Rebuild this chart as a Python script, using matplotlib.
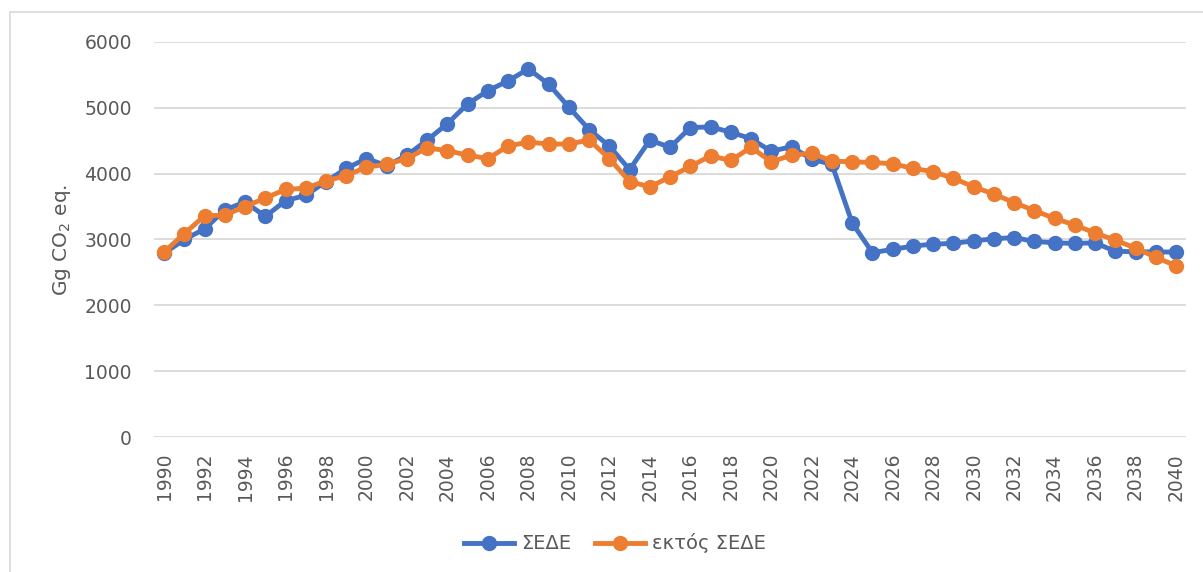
import matplotlib.pyplot as plt
from matplotlib.lines import Line2D

years = list(range(1990, 2041))

# ΣΕΔΕ (blue)
ets = [2790, 3000, 3160, 3450, 3570, 3350, 3590, 3670, 3880, 4080,
       4230, 4120, 4280, 4510, 4760, 5060, 5260, 5410, 5590, 5360,
       5010, 4670, 4420, 4060, 4510, 4400, 4700, 4710, 4630, 4530,
       4340, 4410, 4220, 4140, 3250, 2800, 2850, 2900, 2930, 2940,
       2980, 3010, 3030, 2970, 2950, 2940, 2950, 2820, 2815, 2810, 2810]

# εκτός ΣΕΔΕ (orange)
non_ets = [2810, 3090, 3360, 3370, 3500, 3630, 3760, 3780, 3890, 3970,
           4100, 4140, 4230, 4390, 4350, 4280, 4230, 4420, 4480, 4450,
           4450, 4510, 4230, 3880, 3800, 3950, 4110, 4270, 4200, 4400,
           4180, 4280, 4310, 4190, 4180, 4170, 4150, 4080, 4030, 3930,
           3800, 3690, 3560, 3440, 3320, 3220, 3100, 2990, 2870, 2730, 2600]

blue = '#4472C4'
orange = '#ED7D31'
grey = '#595959'

fig = plt.figure(figsize=(12.03, 5.72), dpi=100)
ax = fig.add_axes([0.128, 0.236, 0.858, 0.6906])

ax.plot(years, ets, color=blue, lw=3.5, marker='o', markersize=10, label='ΣΕΔΕ')
ax.plot(years, non_ets, color=orange, lw=3.5, marker='o', markersize=10, label='εκτός ΣΕΔΕ')

ax.set_xlim(1989.5, 2040.5)
ax.set_ylim(0, 6000)
ax.set_yticks(range(0, 6001, 1000))
ax.set_xticks(range(1990, 2041, 2))
ax.set_xticklabels([str(y) for y in range(1990, 2041, 2)], rotation=90)
ax.tick_params(axis='both', length=0, labelsize=13.5, colors=grey)
ax.tick_params(axis='x', pad=11.5)
ax.tick_params(axis='y', pad=16)
ax.grid(axis='y', color='#D9D9D9', lw=1.3)
ax.set_axisbelow(True)
for s in ax.spines.values():
    s.set_visible(False)

ax.set_ylabel('Gg CO$_2$ eq.', fontsize=14.5, color=grey, labelpad=8)

fig.legend(loc='center', bbox_to_anchor=(0.511, 0.05), ncol=2, frameon=False,
           fontsize=14, handlelength=2.6, columnspacing=1.2, handletextpad=0.35,
           labelcolor=grey)

# chart area border (only left and top edges are inside the picture)
W, H = 1203, 572
border = dict(color='#D9D9D9', lw=1.2, transform=fig.transFigure)
fig.lines.append(Line2D([10 / W, 10 / W], [0, 1 - 12 / H], **border))
fig.lines.append(Line2D([10 / W, 1], [1 - 12 / H, 1 - 12 / H], **border))

fig.savefig('out.png', dpi=100)
